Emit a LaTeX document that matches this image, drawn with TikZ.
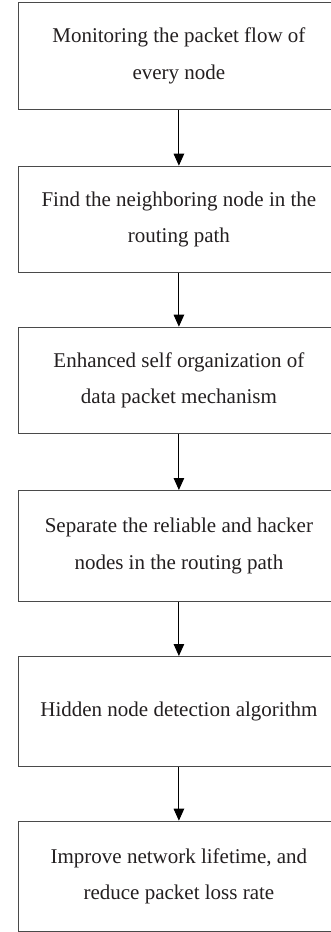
\documentclass[tikz,border=0pt]{standalone}
\usepackage{fontspec}
\setmainfont{Liberation Serif}
\usetikzlibrary{arrows.meta}
\definecolor{boxgray}{HTML}{4A4A4A}
\definecolor{txt}{HTML}{231F20}
\begin{document}
\begin{tikzpicture}[x=1pt,y=-1pt,
  stepbox/.style={draw=boxgray, line width=1.1pt, rectangle, anchor=north west,
    minimum width=321.3pt, align=center, inner sep=0pt, text=txt,
    font=\fontsize{21}{36.5}\selectfont},
  flow/.style={-{Triangle[width=10.5pt,length=12pt]}, line width=1pt, black}]
\useasboundingbox (0,0) rectangle (331,932);
\clip (0,0) rectangle (331,932);
\node[stepbox, minimum height=106.5pt] (b1) at (17.7,2) {Monitoring the packet flow of\\every node};
\node[stepbox, minimum height=106.6pt] (b2) at (17.7,165.7) {Find the neighboring node in the\\routing path};
\node[stepbox, minimum height=106.6pt] (b3) at (17.7,326.7) {Enhanced self organization of\\data packet mechanism};
\node[stepbox, minimum height=110.7pt] (b4) at (17.7,490) {Separate the reliable and hacker\\nodes in the routing path};
\node[stepbox, minimum height=110pt] (b5) at (17.7,656) {Hidden node detection algorithm};
\node[stepbox, minimum height=110.3pt] (b6) at (17.7,820.7) {Improve network lifetime, and\\reduce packet loss rate};
\draw[flow] (b1.south) -- (b2.north);
\draw[flow] (b2.south) -- (b3.north);
\draw[flow] (b3.south) -- (b4.north);
\draw[flow] (b4.south) -- (b5.north);
\draw[flow] (b5.south) -- (b6.north);
\end{tikzpicture}
\end{document}
